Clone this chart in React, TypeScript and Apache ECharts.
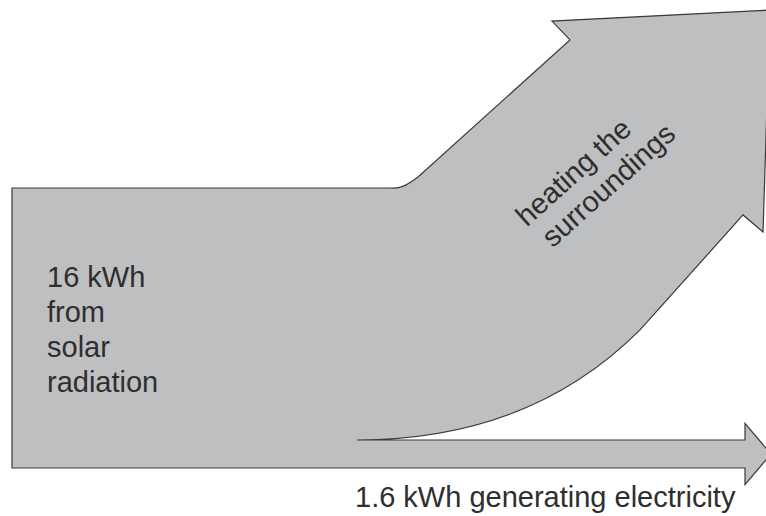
import React, { useEffect, useRef } from "react";
import * as echarts from "echarts";

// ---- data ----
const inputKWh = 16;
const sourceLines = ["16 kWh", "from", "solar", "radiation"];
const flowNames = ["heating the surroundings", "generating electricity"];
const flowKWh = [14.4, 1.6];
const heatingLines = ["heating the", "surroundings"];
const electricityLabel = "1.6 kWh generating electricity";

const FILL = "#bebfc1";
const STROKE = "#3a3a3a";
const TEXT = "#2e2e2e";
const FONT = '29px "Liberation Sans", Arial, Helvetica, sans-serif';

export default function App() {
  const ref = useRef<HTMLDivElement>(null);
  useEffect(() => {
    if (!ref.current) return;
    const chart = echarts.init(ref.current, null, { renderer: "svg" });
    const elec = flowKWh[1];
    const top = inputKWh;

    const renderItem = (_params: any, api: any) => {
      const P = (x: number, v: number) => {
        const p = api.coord([x, v]);
        return p[0].toFixed(2) + "," + p[1].toFixed(2);
      };
      const d =
        "M" + P(12, 0) +
        " L" + P(12, top) +
        " L" + P(390, top) +
        " C" + P(401, top - 0.06) + " " + P(407, top + 0.17) + " " + P(418, top + 0.63) +
        " L" + P(570, 24.46) +
        " L" + P(552, 25.54) +
        " L" + P(770, 26.17) +
        " L" + P(763, 13.49) +
        " L" + P(743, 14.46) +
        " L" + P(640, 7.89) +
        " C" + P(560, 3.31) + " " + P(460, elec) + " " + P(357, elec) +
        " L" + P(745, elec) +
        " L" + P(745, elec / 2 + 1.75) +
        " L" + P(771, elec / 2) +
        " L" + P(745, elec / 2 - 1.75) +
        " L" + P(745, 0) +
        " Z";
      return {
        type: "path",
        shape: { pathData: d },
        style: { fill: FILL, stroke: STROKE, lineWidth: 1.2 },
      };
    };

    const textEl = (text: string, x: number, y: number, rotation = 0) => ({
      type: "text",
      x,
      y,
      rotation,
      silent: true,
      z: 10,
      style: {
        text,
        font: FONT,
        fill: TEXT,
        align: "left",
        textAlign: "left",
        verticalAlign: "middle",
        textVerticalAlign: "middle",
      },
    });

    const rot = (42 * Math.PI) / 180;
    const graphics: any[] = [
      ...sourceLines.map((s, i) => textEl(s, 47, 277 + i * 35)),
      textEl(heatingLines[0], 520, 220, rot),
      textEl(heatingLines[1], 546, 241, rot),
      textEl(electricityLabel, 355, 497),
    ];

    chart.setOption({
      animation: false,
      backgroundColor: "#ffffff",
      grid: { left: 0, right: 0, top: 188, bottom: 48 },
      xAxis: { type: "value", min: 0, max: 766, show: false },
      yAxis: { type: "value", min: 0, max: inputKWh, show: false },
      series: [
        {
          type: "custom",
          name: flowNames.join(" / "),
          clip: false,
          renderItem,
          data: [[0, inputKWh]],
          silent: true,
        },
      ],
      graphic: { elements: graphics },
    });
    return () => chart.dispose();
  }, []);
  return (
    <div
      ref={ref}
      style={{ position: "fixed", left: 0, top: 0, width: 766, height: 516, background: "#fff" }}
    />
  );
}
